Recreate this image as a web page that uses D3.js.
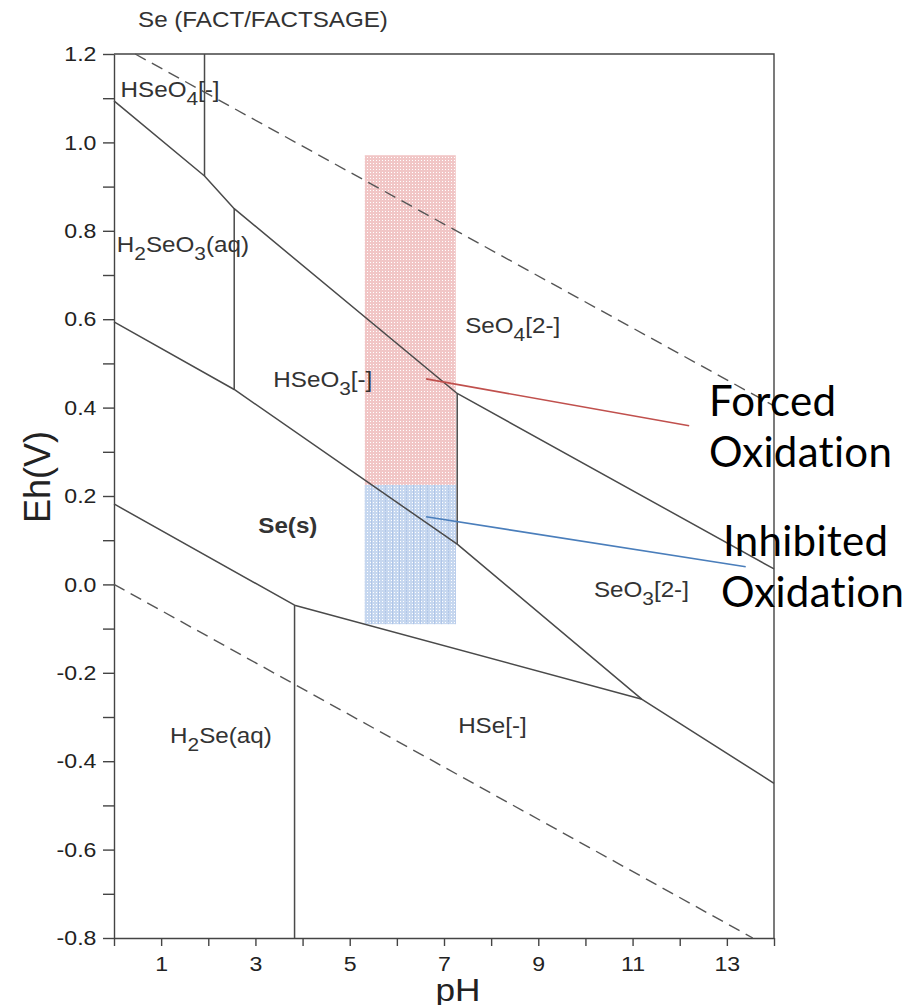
<!DOCTYPE html>
<html>
<head>
<meta charset="utf-8">
<script src="https://d3js.org/d3.v7.min.js"></script>
<style>
  body { margin: 0; background: #fff; }
  text { font-family: "Liberation Sans", Arial, sans-serif; }
</style>
</head>
<body>
<svg id="chart" width="921" height="1005"></svg>
<script>
// axis ticks
var phTicks = [0, 1, 2, 3, 4, 5, 6, 7, 8, 9, 10, 11, 12, 13, 14];
var phLabels = [1, 3, 5, 7, 9, 11, 13];
var ehTicks = [-0.8, -0.7, -0.6, -0.5, -0.4, -0.3, -0.2, -0.1, 0.0, 0.1, 0.2, 0.3, 0.4, 0.5, 0.6, 0.7, 0.8, 0.9, 1.0, 1.1, 1.2];
var ehLabels = [-0.8, -0.6, -0.4, -0.2, 0.0, 0.2, 0.4, 0.6, 0.8, 1.0, 1.2];

// water stability limits (dashed), [pH, Eh]
var waterUpper = [[0.45, 1.2], [14, 0.404]];
var waterLower = [[0, 0], [13.55, -0.8]];

// phase boundaries, [pH, Eh]
var selenateBoundary = [[0, 1.094], [1.92, 0.924], [2.55, 0.85], [7.28, 0.432], [14, 0.035]];
var seSolidUpper = [[0, 0.594], [2.55, 0.441], [7.28, 0.091], [11.2, -0.26], [14, -0.45]];
var seSolidLower = [[0, 0.182], [3.83, -0.047], [11.2, -0.26]];
var verticals = [
  [[1.92, 1.2], [1.92, 0.924]],
  [[2.55, 0.85], [2.55, 0.441]],
  [[7.28, 0.432], [7.28, 0.091]],
  [[3.83, -0.047], [3.83, -0.8]]
];

// species labels: text ("_" = subscript digit), pH, Eh of baseline start
var species = [
  ["HSeO_4[-]", 0.14, 1.103],
  ["H_2SeO_3(aq)", 0.06, 0.752],
  ["SeO_4[2-]", 7.45, 0.568],
  ["HSeO_3[-]", 3.38, 0.447],
  ["Se(s)", 3.06, 0.117],
  ["SeO_3[2-]", 10.18, -0.028],
  ["H_2Se(aq)", 1.19, -0.358],
  ["HSe[-]", 7.3, -0.336]
];

// shaded operating windows: pH range, Eh range
var forcedBox = { ph: [5.32, 7.25], eh: [0.225, 0.971] };
var inhibitedBox = { ph: [5.32, 7.25], eh: [-0.09, 0.225] };

// pointer lines [pH, Eh]
var forcedPointer = [[6.62, 0.465], [12.2, 0.359]];
var inhibitedPointer = [[6.62, 0.153], [13.4, 0.040]];

var svg = d3.select("#chart");
var plotLeft = 114, plotRight = 774, plotTop = 54, plotBottom = 938;

var x = d3.scaleLinear().domain([0, 14]).range([plotLeft, plotRight]);
var y = d3.scaleLinear().domain([-0.8, 1.2]).range([plotBottom, plotTop]);

var line = d3.line()
    .x(function(d) { return x(d[0]); })
    .y(function(d) { return y(d[1]); });

var defs = svg.append("defs");
var pr = defs.append("pattern").attr("id", "dotRed")
    .attr("width", 3).attr("height", 3).attr("patternUnits", "userSpaceOnUse");
pr.append("rect").attr("width", 3).attr("height", 3).attr("fill", "#f1c6c6");
pr.append("rect").attr("x", 1).attr("y", 1).attr("width", 1).attr("height", 1).attr("fill", "#fff");

var pb = defs.append("pattern").attr("id", "dotBlue")
    .attr("width", 3).attr("height", 3).attr("patternUnits", "userSpaceOnUse");
pb.append("rect").attr("width", 3).attr("height", 3).attr("fill", "#c6d7ef");
pb.append("rect").attr("x", 1).attr("y", 1).attr("width", 1).attr("height", 1).attr("fill", "#fff");

var ps = defs.append("pattern").attr("id", "stripeBlue")
    .attr("width", 7).attr("height", 3).attr("patternUnits", "userSpaceOnUse");
ps.append("rect").attr("width", 1).attr("height", 3).attr("fill", "#9ab6e2").attr("opacity", 0.5);

function box(b, fill) {
  svg.append("rect")
      .attr("x", x(b.ph[0]))
      .attr("y", y(b.eh[1]))
      .attr("width", x(b.ph[1]) - x(b.ph[0]))
      .attr("height", y(b.eh[0]) - y(b.eh[1]))
      .attr("fill", fill);
}
box(forcedBox, "url(#dotRed)");
box(inhibitedBox, "url(#dotBlue)");
box(inhibitedBox, "url(#stripeBlue)");

// axes
var xAxis = svg.append("g")
    .attr("transform", "translate(0," + plotBottom + ")")
    .call(d3.axisBottom(x).tickValues(phTicks).tickSize(8).tickPadding(10).tickSizeOuter(0)
      .tickFormat(function(d) { return phLabels.indexOf(d) >= 0 ? d : ""; }));

var yAxis = svg.append("g")
    .attr("transform", "translate(" + plotLeft + ",0)")
    .call(d3.axisLeft(y).tickValues(ehTicks).tickSize(11).tickPadding(5).tickSizeOuter(0)
      .tickFormat(function(d) {
        var hit = ehLabels.some(function(v) { return Math.abs(v - d) < 1e-6; });
        return hit ? (+d).toFixed(1) : "";
      }));

[xAxis, yAxis].forEach(function(a) {
  a.selectAll("path, line").attr("stroke", "#444").attr("stroke-width", 1.4);
  a.selectAll("text")
      .attr("fill", "#222")
      .style("font-size", "21px")
      .style("font-family", "'Liberation Sans', Arial, sans-serif")
      .attr("transform", "scale(1.1,1)");
});

// frame top and right
svg.append("path")
    .attr("d", line([[0, 1.2], [14, 1.2], [14, -0.8]]))
    .attr("fill", "none").attr("stroke", "#444").attr("stroke-width", 1.4);

// water lines
[waterUpper, waterLower].forEach(function(d) {
  svg.append("path").datum(d)
      .attr("d", line)
      .attr("fill", "none")
      .attr("stroke", "#555")
      .attr("stroke-width", 1.4)
      .attr("stroke-dasharray", "12,7");
});

// boundaries
[selenateBoundary, seSolidUpper, seSolidLower].concat(verticals).forEach(function(d) {
  svg.append("path").datum(d)
      .attr("d", line)
      .attr("fill", "none")
      .attr("stroke", "#4a4a4a")
      .attr("stroke-width", 1.5)
      .attr("stroke-linejoin", "round");
});

// species labels
species.forEach(function(s) {
  var t = svg.append("text")
      .attr("transform", "translate(" + x(s[1]) + "," + y(s[2]) + ") scale(1.1,1)")
      .attr("fill", "#333")
      .style("font-size", "22px")
      .style("font-weight", s[0] === "Se(s)" ? "bold" : "normal");
  var parts = s[0].split(/_(\d)/);
  var shift = 0;
  parts.forEach(function(p, i) {
    if (i % 2 === 1) {
      t.append("tspan").attr("dy", 8).style("font-size", "19px").text(p);
      shift = -8;
    } else if (p !== "") {
      t.append("tspan").attr("dy", shift).text(p);
      shift = 0;
    }
  });
});

// title and axis titles
svg.append("text")
    .attr("transform", "translate(138,27) scale(1.1,1)")
    .attr("fill", "#333")
    .style("font-size", "22px")
    .text("Se (FACT/FACTSAGE)");

svg.append("text")
    .attr("transform", "translate(50,477) rotate(-90)")
    .attr("text-anchor", "middle")
    .attr("fill", "#222")
    .style("font-size", "36px")
    .text("Eh(V)");

svg.append("text")
    .attr("transform", "translate(458,1001) scale(1.1,1)")
    .attr("text-anchor", "middle")
    .attr("fill", "#222")
    .style("font-size", "32px")
    .text("pH");

// pointers and annotations
svg.append("path").datum(forcedPointer)
    .attr("d", line).attr("fill", "none")
    .attr("stroke", "#c0504d").attr("stroke-width", 1.6);
svg.append("path").datum(inhibitedPointer)
    .attr("d", line).attr("fill", "none")
    .attr("stroke", "#4a7ebb").attr("stroke-width", 1.6);

function note(lines, py) {
  var t = svg.append("text")
      .attr("fill", "#000")
      .style("font-family", "Lato, 'Open Sans', sans-serif")
      .style("font-variant-ligatures", "none")
      .style("font-feature-settings", "'liga' 0, 'dlig' 0")
      .style("letter-spacing", "0.3px")
      .style("font-size", "42px");
  lines.forEach(function(l, i) {
    t.append("tspan").attr("x", l[1]).attr("y", py + i * 51).text(l[0]);
  });
}
note([["Forced", 709], ["Oxidation", 709]], 416);
note([["Inhibited", 723], ["Oxidation", 721]], 556);
</script>
</body>
</html>
